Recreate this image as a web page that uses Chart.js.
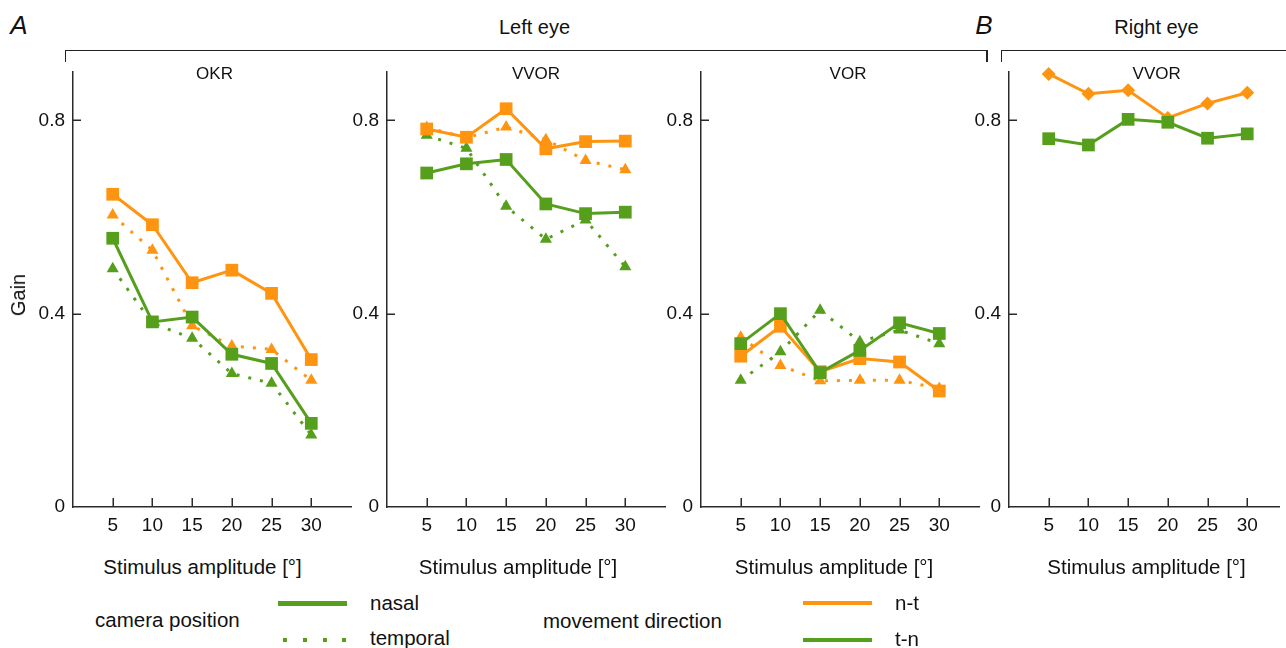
<!DOCTYPE html>
<html>
<head>
<meta charset="utf-8">
<script src="https://cdn.jsdelivr.net/npm/chart.js@4/dist/chart.umd.min.js"></script>
<style>
  html, body { margin: 0; padding: 0; background: #fff; }
  body { width: 1286px; height: 648px; overflow: hidden; position: relative;
         font-family: "Liberation Sans", Arial, Helvetica, sans-serif; color: #111; }
  .txt { position: absolute; line-height: 1; white-space: nowrap; }
  .c { transform: translate(-50%, -50%); }
  .l { transform: translate(0, -50%); }
  .panel { position: absolute; }
  .hline { position: absolute; background: #222; }
</style>
</head>
<body>
<div id="figure"></div>
<script>
// Stimulus amplitudes (deg) and gain tick values
const AMPLITUDES = [5, 10, 15, 20, 25, 30];
const GAIN_TICKS = [0, 0.4, 0.8];

// Left eye, OKR
const okrNasalNT    = [0.647, 0.584, 0.464, 0.490, 0.442, 0.305];
const okrTemporalNT = [0.604, 0.531, 0.375, 0.333, 0.326, 0.262];
const okrNasalTN    = [0.556, 0.383, 0.393, 0.316, 0.297, 0.173];
const okrTemporalTN = [0.493, 0.380, 0.349, 0.276, 0.256, 0.149];

// Left eye, VVOR
const vvorNasalNT    = [0.782, 0.765, 0.824, 0.741, 0.756, 0.757];
const vvorTemporalNT = [0.785, 0.764, 0.786, 0.760, 0.717, 0.698];
const vvorNasalTN    = [0.691, 0.710, 0.719, 0.627, 0.607, 0.610];
const vvorTemporalTN = [0.769, 0.742, 0.622, 0.554, 0.594, 0.497];

// Left eye, VOR
const vorNasalNT    = [0.312, 0.374, 0.280, 0.307, 0.300, 0.240];
const vorTemporalNT = [0.351, 0.293, 0.261, 0.262, 0.262, 0.245];
const vorNasalTN    = [0.338, 0.400, 0.278, 0.324, 0.381, 0.359];
const vorTemporalTN = [0.262, 0.321, 0.407, 0.342, 0.366, 0.338];

// Right eye, VVOR
const rightVvorNT = [0.896, 0.855, 0.862, 0.805, 0.835, 0.857];
const rightVvorTN = [0.762, 0.749, 0.802, 0.796, 0.763, 0.772];

const ORANGE = '#FF9410';
const GREEN = '#569F1D';
const AXIS = '#2a2a2a';
const FONT = '"Liberation Sans", Arial, Helvetica, sans-serif';

const fig = document.getElementById('figure');

function addText(str, x, y, opts = {}) {
  const d = document.createElement('div');
  d.className = 'txt ' + (opts.align === 'left' ? 'l' : 'c');
  d.textContent = str;
  d.style.left = x + 'px';
  d.style.top = y + 'px';
  d.style.fontSize = (opts.size || 20) + 'px';
  if (opts.italic) d.style.fontStyle = 'italic';
  if (opts.rotate) d.style.transform = 'translate(-50%, -50%) rotate(-90deg)';
  fig.appendChild(d);
}
function addRect(x, y, w, h, color) {
  const d = document.createElement('div');
  d.className = 'hline';
  Object.assign(d.style, { left: x + 'px', top: y + 'px', width: w + 'px', height: h + 'px', background: color || '#222' });
  fig.appendChild(d);
}

// Short inward-pointing tick marks on both axes
const innerTicks = {
  id: 'innerTicks',
  beforeDatasetsDraw(chart) {
    const { ctx, chartArea, scales } = chart;
    ctx.save();
    ctx.strokeStyle = AXIS;
    ctx.lineWidth = 1.5;
    ctx.beginPath();
    scales.y.ticks.forEach(t => {
      if (t.value === 0) return;
      const y = Math.round(scales.y.getPixelForValue(t.value)) + 0.25;
      ctx.moveTo(chartArea.left, y);
      ctx.lineTo(chartArea.left + 8, y);
    });
    scales.x.ticks.forEach(t => {
      const x = Math.round(scales.x.getPixelForValue(t.value)) + 0.25;
      ctx.moveTo(x, chartArea.bottom);
      ctx.lineTo(x, chartArea.bottom - 9);
    });
    ctx.stroke();
    ctx.restore();
  }
};

function series(values, color, dotted, marker, radius) {
  return {
    data: AMPLITUDES.map((a, i) => ({ x: a, y: values[i] })),
    borderColor: color,
    backgroundColor: color,
    borderWidth: 3,
    borderDash: dotted ? [3, 9] : [],
    pointStyle: marker,
    pointRadius: radius,
    pointBorderWidth: 0,
    pointBackgroundColor: color,
    tension: 0,
    clip: false,
    order: 0
  };
}

const PAD_LEFT = 50, PAD_RIGHT = 6, TOP = 62, PAD_TOP = 10, BOTTOM = 507, X_AXIS_H = 40;

function panel(x0, x1, xMax, datasets) {
  const wrap = document.createElement('div');
  wrap.className = 'panel';
  const w = PAD_LEFT + (x1 - x0) + PAD_RIGHT;
  const h = (BOTTOM - TOP) + X_AXIS_H;
  wrap.style.left = (x0 - PAD_LEFT) + 'px';
  wrap.style.top = TOP + 'px';
  const cv = document.createElement('canvas');
  cv.width = w; cv.height = h;
  cv.style.width = w + 'px'; cv.style.height = h + 'px';
  wrap.appendChild(cv);
  fig.appendChild(wrap);
  // later datasets are drawn first so that earlier ones sit on top
  datasets.forEach((d, i) => { d.order = i; });
  new Chart(cv, {
    type: 'line',
    data: { datasets },
    plugins: [innerTicks],
    options: {
      responsive: false,
      animation: false,
      events: [],
      layout: { padding: { top: PAD_TOP, right: PAD_RIGHT, left: 0, bottom: 0 } },
      plugins: { legend: { display: false }, tooltip: { enabled: false } },
      scales: {
        x: {
          type: 'linear', min: 0, max: xMax,
          afterBuildTicks: s => { s.ticks = AMPLITUDES.map(v => ({ value: v })); },
          afterFit: s => { s.height = X_AXIS_H; s.paddingLeft = 0; s.paddingRight = 0; },
          grid: { display: false, drawTicks: false },
          border: { display: true, color: AXIS, width: 1.5 },
          ticks: { padding: 7, color: '#111', autoSkip: false, maxRotation: 0,
                   font: { family: FONT, size: 19 }, callback: v => String(v) }
        },
        y: {
          type: 'linear', min: 0, max: 0.9,
          afterBuildTicks: s => { s.ticks = GAIN_TICKS.map(v => ({ value: v })); },
          afterFit: s => { s.width = PAD_LEFT; s.paddingTop = 0; s.paddingBottom = 0; },
          grid: { display: false, drawTicks: false },
          border: { display: true, color: AXIS, width: 1.5 },
          ticks: { padding: 8, color: '#111',
                   font: { family: FONT, size: 19 }, callback: v => (v === 0 ? '0' : v.toFixed(1)) }
        }
      }
    }
  });
}

// Panels: solid = nasal camera (squares), dotted = temporal camera (triangles)
panel(72.7, 354, 35, [
  series(okrNasalTN, GREEN, false, 'rect', 9),
  series(okrNasalNT, ORANGE, false, 'rect', 9),
  series(okrTemporalTN, GREEN, true, 'triangle', 7),
  series(okrTemporalNT, ORANGE, true, 'triangle', 7)
]);
panel(386.7, 668, 35, [
  series(vvorNasalTN, GREEN, false, 'rect', 9),
  series(vvorNasalNT, ORANGE, false, 'rect', 9),
  series(vvorTemporalTN, GREEN, true, 'triangle', 7),
  series(vvorTemporalNT, ORANGE, true, 'triangle', 7)
]);
panel(700.7, 982, 35, [
  series(vorNasalTN, GREEN, false, 'rect', 9),
  series(vorNasalNT, ORANGE, false, 'rect', 9),
  series(vorTemporalTN, GREEN, true, 'triangle', 7),
  series(vorTemporalNT, ORANGE, true, 'triangle', 7)
]);
panel(1009, 1282.4, 34, [
  series(rightVvorTN, GREEN, false, 'rect', 9),
  series(rightVvorNT, ORANGE, false, 'rectRot', 7)
]);

// Panel labels and group headers
addText('A', 19, 25, { size: 26, italic: true });
addText('B', 984, 25, { size: 26, italic: true });
addText('Left eye', 534.5, 27, { size: 20 });
addText('Right eye', 1156.5, 27, { size: 20 });
addRect(65, 49.5, 922.5, 1.4);
addRect(65, 49.5, 1.4, 12.5);
addRect(986.3, 49.5, 1.4, 12.5);
addRect(1000.5, 49.5, 290, 1.4);
addRect(1000.5, 49.5, 1.4, 12.5);

// Panel titles
addText('OKR', 214.5, 73, { size: 17 });
addText('VVOR', 536, 73, { size: 17 });
addText('VOR', 848, 73, { size: 17 });
addText('VVOR', 1156.7, 73, { size: 17 });

// Axis titles
addText('Gain', 18, 295, { size: 20, rotate: true });
[202.5, 518, 834, 1146.5].forEach(cx => addText('Stimulus amplitude [°]', cx, 567, { size: 20.5 }));

// Legend: camera position
addText('camera position', 95, 620, { size: 20.5, align: 'left' });
addRect(278, 600.5, 68.5, 5, GREEN);
addText('nasal', 370, 603, { size: 20.5, align: 'left' });
[282.7, 302.7, 322.7, 341.7].forEach(x => addRect(x, 637.5, 4.7, 4.7, GREEN));
addText('temporal', 370, 638, { size: 20.5, align: 'left' });

// Legend: movement direction
addText('movement direction', 543, 621, { size: 20.5, align: 'left' });
addRect(803, 600.8, 69, 4.5, ORANGE);
addText('n-t', 895, 603, { size: 20.5, align: 'left' });
addRect(803, 637.8, 69, 4.5, GREEN);
addText('t-n', 895, 639, { size: 20.5, align: 'left' });
</script>
</body>
</html>
